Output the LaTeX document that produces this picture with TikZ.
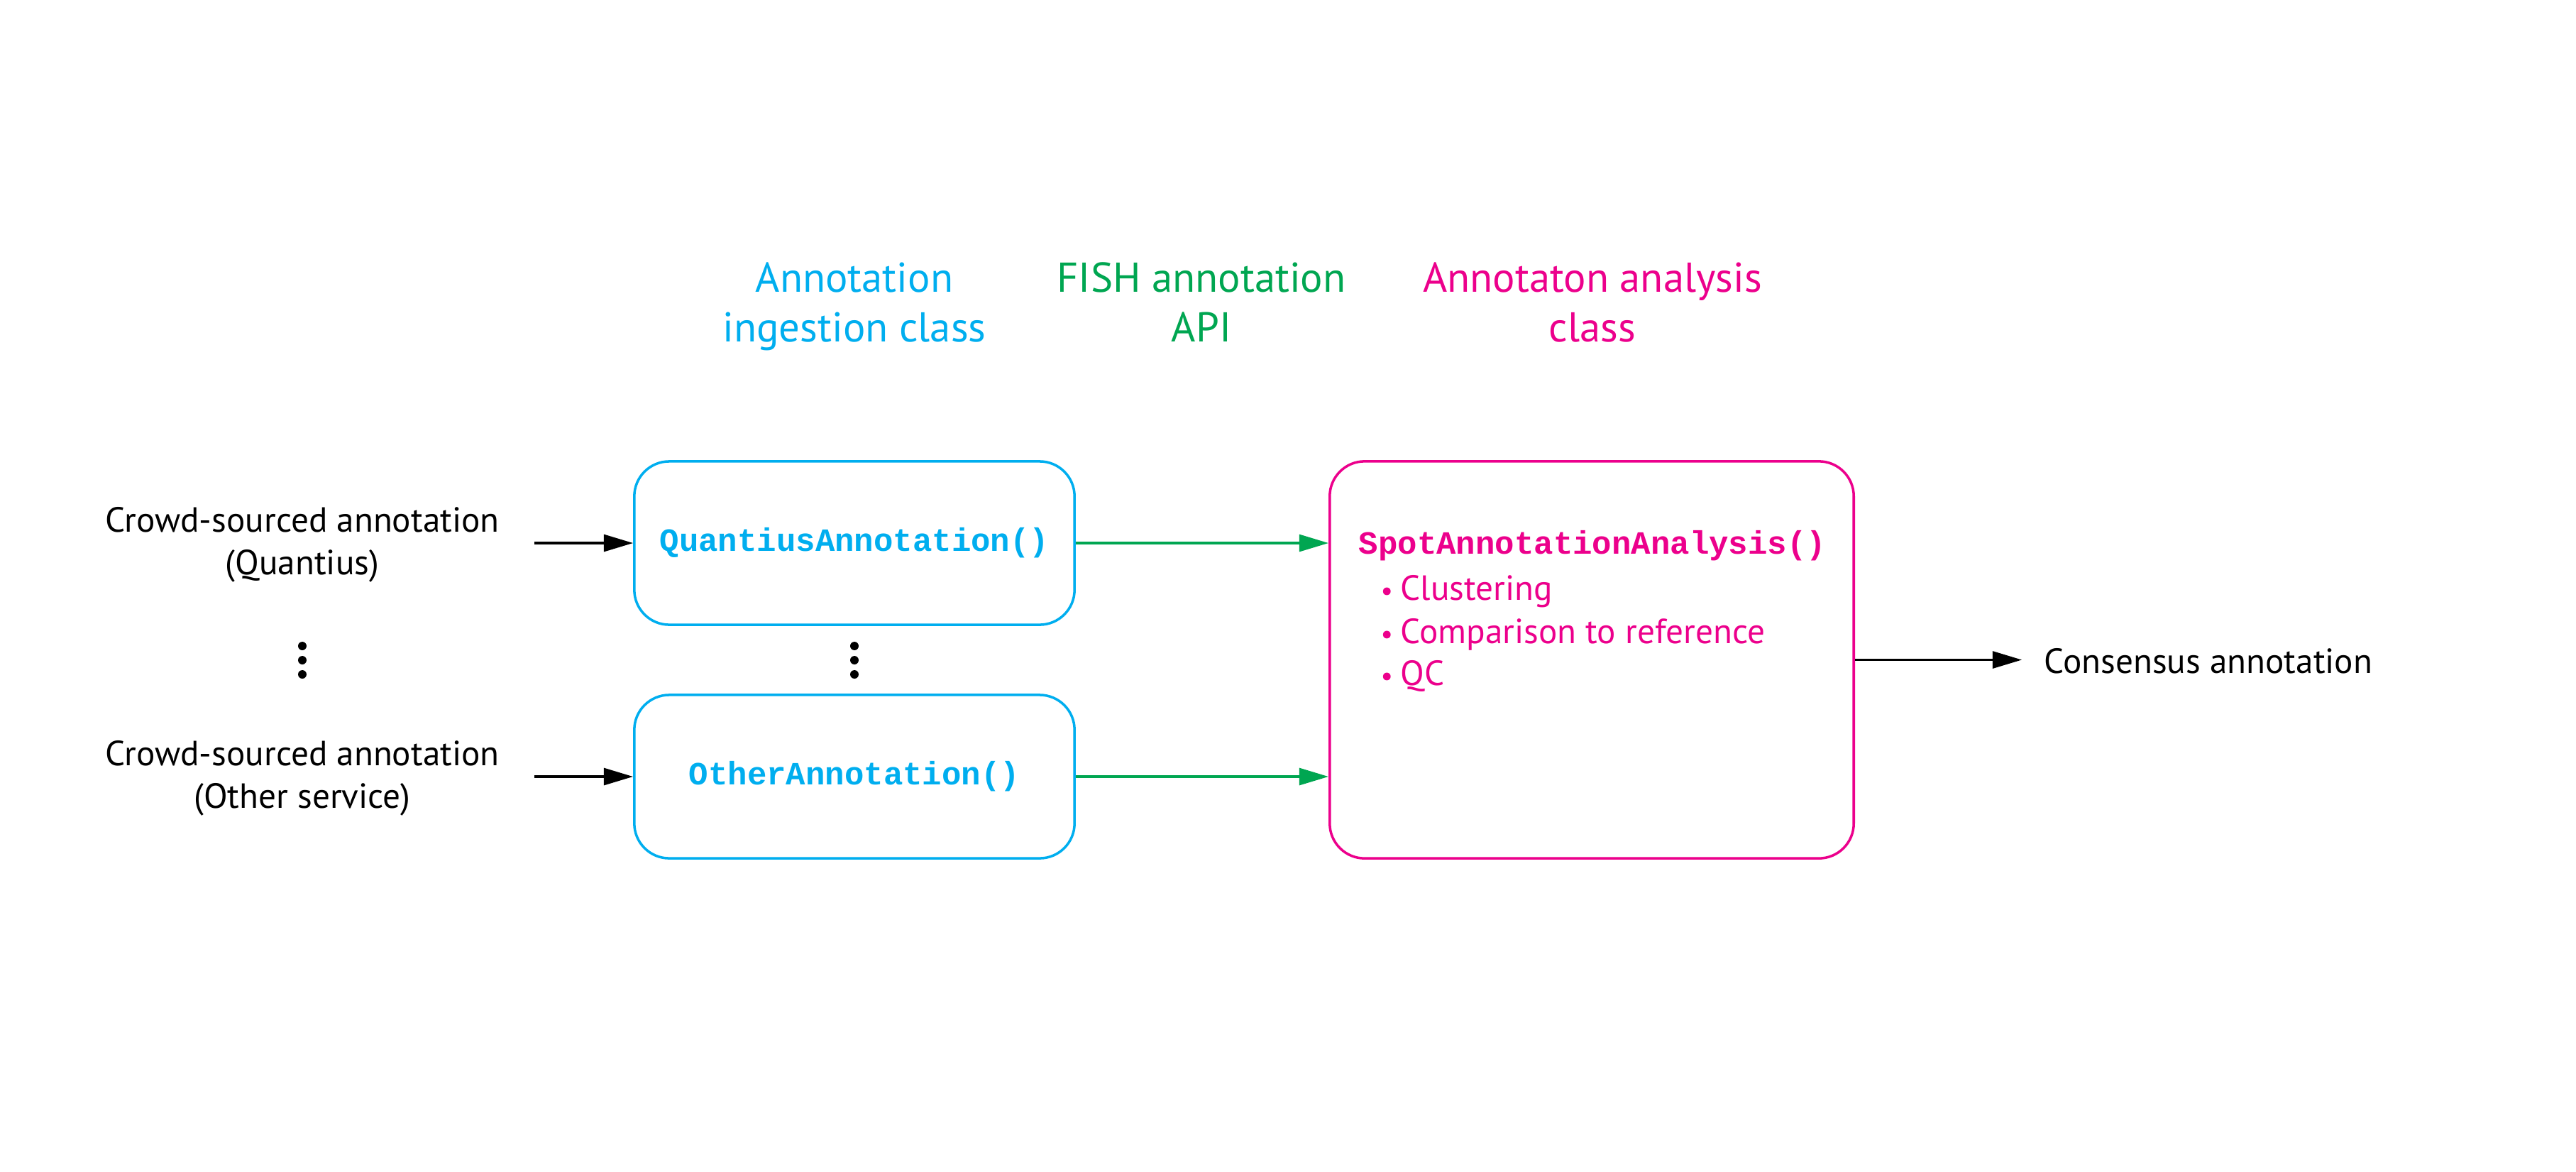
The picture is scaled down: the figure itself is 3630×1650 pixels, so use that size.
\documentclass[tikz,border=0pt]{standalone}
\usepackage{fontspec}
\setmainfont{PT Sans}
\newfontfamily\codefont{Liberation Mono Bold}
\usetikzlibrary{arrows.meta}
\definecolor{cblue}{HTML}{00AEEF}
\definecolor{cgreen}{HTML}{00A651}
\definecolor{cpink}{HTML}{EC008C}
\newcommand{\bulletitem}[1]{{\fontsize{11}{12}\selectfont\textbullet}\kern3pt #1}
\tikzset{
  bodytext/.style={font=\fontsize{14}{16.8}\selectfont, align=center, inner sep=0pt},
  headtext/.style={font=\fontsize{16.7}{19.9}\selectfont, align=center, inner sep=0pt},
  codetext/.style={font=\fontsize{13}{15}\selectfont\codefont},
  classbox/.style={draw, line width=1pt, rounded corners=14pt, inner sep=0pt},
  ingestbox/.style={classbox, draw=cblue, text=cblue, codetext, minimum width=6.2cm, minimum height=2.3cm},
  analysisbox/.style={classbox, draw=cpink, minimum width=7.38cm, minimum height=5.59cm},
  arr/.style={line width=0.9pt, -{Triangle[length=11.7pt, width=6.8pt]}},
  dotmark/.style={circle, fill=black, inner sep=0pt, minimum size=3.4pt},
}
\begin{document}
\begin{tikzpicture}[x=0.01cm, y=-0.01cm]
\useasboundingbox (0,0) rectangle (3630,1650);
\fill[white] (0,0) rectangle (3630,1650);

% headers (base anchor = baseline of last line)
\node[headtext, text=cblue, anchor=base] (h1) at (1204,481) {Annotation\\ingestion class};
\node[headtext, text=cgreen, anchor=base] (h2) at (1693,481) {FISH annotation\\API};
\node[headtext, text=cpink, anchor=base] (h3) at (2244,481) {Annotaton analysis\\class};

% left labels
\node[bodytext, anchor=base] (l1) at (426,809) {Crowd-sourced annotation\\(Quantius)};
\node[bodytext, anchor=base] (l2) at (426,1138) {Crowd-sourced annotation\\(Other service)};
\node[dotmark] (ld1) at (426,910) {};
\node[dotmark] (ld2) at (426,930) {};
\node[dotmark] (ld3) at (426,950) {};

% ingestion boxes
\node[ingestbox] (q) at (1204,765) {QuantiusAnnotation()};
\node[ingestbox] (o) at (1204,1094) {OtherAnnotation()};
\node[dotmark] (md1) at (1204,910) {};
\node[dotmark] (md2) at (1204,930) {};
\node[dotmark] (md3) at (1204,950) {};

% analysis box
\node[analysisbox] (p) at (2243,929.5) {};
\node[codetext, text=cpink, anchor=base west, inner sep=0pt] (pt) at (1914,780) {SpotAnnotationAnalysis()};
\node[bodytext, text=cpink, anchor=base west] (b1) at (1945,845) {\bulletitem{Clustering}};
\node[bodytext, text=cpink, anchor=base west] (b2) at (1945,906) {\bulletitem{Comparison to reference}};
\node[bodytext, text=cpink, anchor=base west] (b3) at (1945,965) {\bulletitem{QC}};

% output
\node[bodytext, anchor=base west] (cons) at (2880,948) {Consensus annotation};

% connectors
\coordinate (s1) at (753,765);
\coordinate (s2) at (753,1094);
\draw[arr] (s1) -- (q.west);
\draw[arr] (s2) -- (o.west);
\draw[arr, cgreen] (q.east) -- (q.east -| p.west);
\draw[arr, cgreen] (o.east) -- (o.east -| p.west);
\draw[arr] (p.east) -- ([xshift=-8.8pt]p.east -| cons.west);
\end{tikzpicture}
\end{document}
